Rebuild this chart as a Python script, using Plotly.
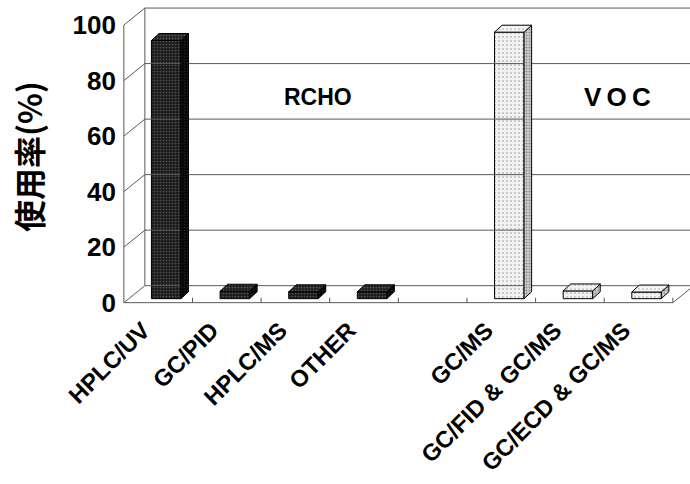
import plotly.graph_objects as go

# ---- data ----
rcho_labels = ["HPLC/UV", "GC/PID", "HPLC/MS", "OTHER"]
rcho_values = [93, 2.7, 2.5, 2.5]
voc_labels = ["GC/MS", "GC/FID & GC/MS", "GC/ECD & GC/MS"]
voc_values = [96, 2.8, 2.4]
y_ticks = [0, 20, 40, 60, 80, 100]
y_title = "使用率(%)"

# ---- geometry (data units) ----
DX, DY = 0.306, 6.12          # depth of the wall / floor
FX, FB = 0.117, 1.44          # bar front offset (x) and base lift
BW = 0.43                     # bar width
BDX, BDY = 0.11, 2.5          # bar depth
N_SLOTS = 8
LABEL_SHIFT = -0.22

rcho_pos = [i + 0.5 for i in range(len(rcho_labels))]
voc_pos = [i + 5.5 for i in range(len(voc_labels))]

fig = go.Figure()

# ---- frame lines ----
lx, ly = [], []
XR = 9.0
for v in y_ticks:
    lx += [0, DX, None]; ly += [v, v + DY, None]
    lx += [DX, XR, None]; ly += [v + DY, v + DY, None]
lx += [DX, DX, None, 0, 0, None]; ly += [DY, 100 + DY, None, 0, 100, None]
lx += [0, N_SLOTS, None, N_SLOTS, N_SLOTS + DX, None]; ly += [0, 0, None, 0, DY, None]
for k in range(1, N_SLOTS + 1):
    lx += [k, k, None]; ly += [0, 1.8, None]
fig.add_trace(go.Scatter(x=lx, y=ly, mode="lines", line=dict(color="#5a5a5a", width=1),
                         hoverinfo="skip", cliponaxis=False))


def add_bars(pos, vals, front, side, top):
    xs = [p + FX for p in pos]
    fig.add_trace(go.Bar(x=xs, y=vals, base=[FB] * len(vals), width=BW,
                         marker=dict(color=front["bgcolor"], line=dict(color="black", width=1),
                                     pattern=front)))
    sx, sy, tx, ty = [], [], [], []
    for x, v in zip(xs, vals):
        xl, xr = x - BW / 2, x + BW / 2
        b, t = FB, FB + v
        sx += [xr, xr + BDX, xr + BDX, xr, xr, None]
        sy += [b, b + BDY, t + BDY, t, b, None]
        tx += [xl, xl + BDX, xr + BDX, xr, xl, None]
        ty += [t, t + BDY, t + BDY, t, t, None]
    fig.add_trace(go.Scatter(x=sx, y=sy, mode="lines", fill="toself",
                             line=dict(color="black", width=1), fillcolor=side["bgcolor"],
                             fillpattern=side, hoverinfo="skip"))
    fig.add_trace(go.Scatter(x=tx, y=ty, mode="lines", fill="toself",
                             line=dict(color="black", width=1), fillcolor=top["bgcolor"],
                             fillpattern=top, hoverinfo="skip"))


add_bars(rcho_pos, rcho_values,
         front=dict(shape=".", bgcolor="#1c1c1c", fgcolor="#8a8a8a", size=3, solidity=0.25),
         side=dict(shape=".", bgcolor="#080808", fgcolor="#444", size=3, solidity=0.15),
         top=dict(shape=".", bgcolor="#222", fgcolor="#999", size=3, solidity=0.25))
add_bars(voc_pos, voc_values,
         front=dict(shape=".", bgcolor="#f2f2f2", fgcolor="#8a8a8a", size=4, solidity=0.2),
         side=dict(shape=".", bgcolor="#cfcfcf", fgcolor="#444", size=3, solidity=0.35),
         top=dict(shape=".", bgcolor="#f4f4f4", fgcolor="#999", size=4, solidity=0.2))

tick_pos = [p + LABEL_SHIFT for p in rcho_pos + voc_pos]
tick_text = rcho_labels + voc_labels

fig.update_layout(
    width=690, height=484,
    margin=dict(l=117, r=0, t=7, b=173, autoexpand=False),
    plot_bgcolor="white", paper_bgcolor="white",
    showlegend=False, barmode="overlay",
    font=dict(family="Liberation Sans, Arial", color="black"),
    xaxis=dict(range=[-0.1, 8.25], tickvals=tick_pos, ticktext=tick_text, tickangle=-45,
               showgrid=False, zeroline=False, showline=False, ticks="", automargin=False,
               tickfont=dict(size=23.5, weight="bold", family="Liberation Sans, Arial")),
    yaxis=dict(range=[-3, 106.5], tickvals=y_ticks, showgrid=False, zeroline=False,
               showline=False, ticks="", automargin=False,
               tickfont=dict(size=26, weight="bold", family="Liberation Sans, Arial")),
    annotations=[
        dict(text="RCHO", x=2.83, y=74, xref="x", yref="y", showarrow=False,
             font=dict(size=23, weight="bold", family="Liberation Sans, Arial")),
        dict(text="V\u2009O\u2009C", x=7.2, y=74, xref="x", yref="y", showarrow=False,
             font=dict(size=26, weight="bold", family="Liberation Sans, Arial")),
        dict(text=y_title, x=-0.155, y=0.507, xref="paper", yref="paper", showarrow=False,
             textangle=-90, xanchor="center", yanchor="middle",
             font=dict(size=32, weight="bold", family="Noto Sans CJK JP")),
    ],
)

fig.write_html("out.html")
